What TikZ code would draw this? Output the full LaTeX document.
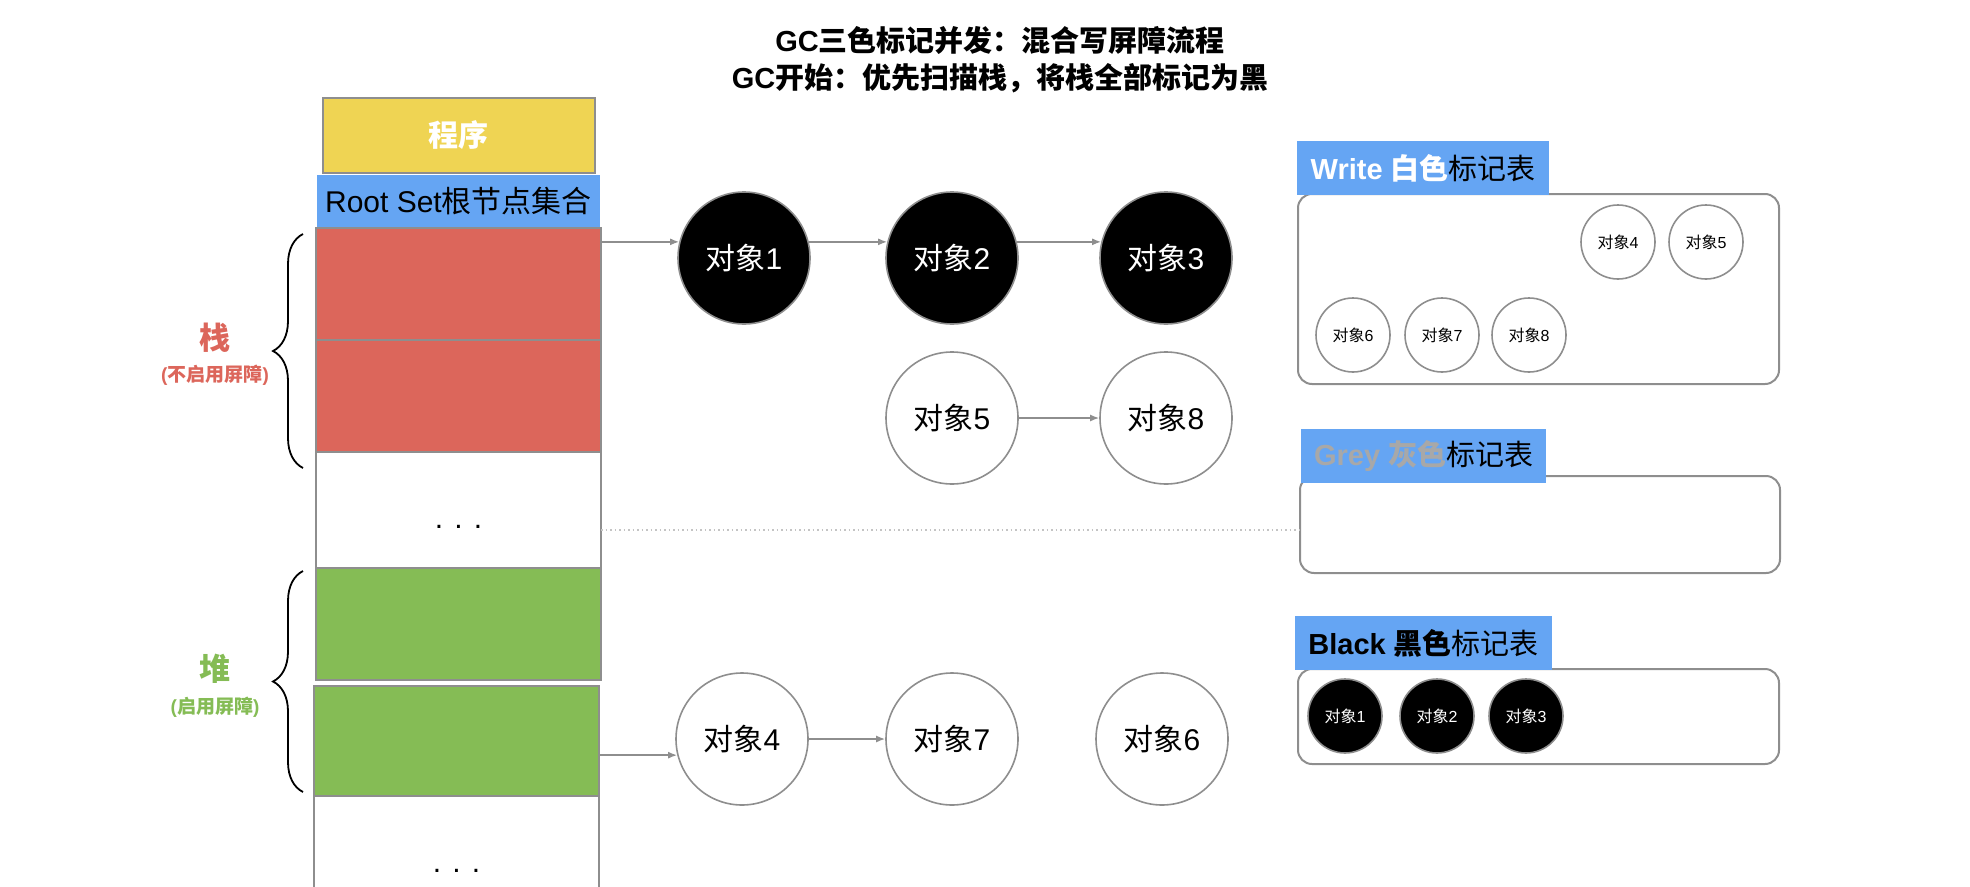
\documentclass[tikz,border=0pt]{standalone}
\usepackage{fontspec}
\setmainfont{Liberation Sans}
\newfontfamily\cjkfont{Noto Sans CJK SC}
\usetikzlibrary{arrows.meta,positioning,calc,decorations.pathreplacing}
\definecolor{progyellow}{HTML}{EFD453}
\definecolor{rootblue}{HTML}{65A5F3}
\definecolor{stackred}{HTML}{DC665B}
\definecolor{heapgreen}{HTML}{85BC55}
\definecolor{edgegray}{HTML}{8E8E8E}
\definecolor{greytext}{HTML}{A8A8A8}
\definecolor{dotgray}{HTML}{C4C4C4}
\newcommand{\zh}[1]{{\cjkfont #1}}
\tikzset{
  flowarrow/.style={-{Latex[length=9pt,width=7pt]}, line width=1.6pt, draw=edgegray},
  dotline/.style={line width=1.5pt, draw=dotgray, dash pattern=on 1.5pt off 3pt},
  memblock/.style={draw=edgegray, line width=2pt, minimum width=285pt, inner sep=0pt,
    outer sep=0pt, font=\fontsize{30}{36}\selectfont},
  memdots/.style={memblock, text height=36pt, text depth=0pt},
  objnode/.style={circle, draw=edgegray, line width=1.6pt, fill=white, minimum size=132pt,
    inner sep=0pt, font=\fontsize{30}{36}\selectfont},
  objblack/.style={objnode, fill=black, text=white},
  tabobj/.style={circle, draw=edgegray, line width=1.6pt, fill=white, minimum size=74pt,
    inner sep=0pt, font=\fontsize{16}{19}\selectfont},
  tabobjblack/.style={tabobj, fill=black, text=white},
  tabtitle/.style={fill=rootblue, anchor=north west, minimum height=54pt, inner sep=0pt,
    font=\fontsize{29}{34}\selectfont},
  tabframe/.style={draw=edgegray, line width=2pt, rounded corners=14pt, anchor=north west,
    minimum width=481pt, inner sep=0pt},
  sidebrace/.style={decorate, decoration={brace, amplitude=30pt}, line width=1.8pt},
  sidelabel/.style={font=\fontsize{31}{36}\selectfont\bfseries},
  sidenote/.style={font=\fontsize{19}{23}\selectfont\bfseries}
}

\begin{document}
\begin{tikzpicture}[x=1pt, y=-1pt]
    \clip (0,0) rectangle (1970,886);

    % title
    \node[align=center, font=\fontsize{29}{37}\selectfont\bfseries] (title) at (1000,60)
        {GC\zh{三色标记并发：混合写屏障流程}\\GC\zh{开始：优先扫描栈，将栈全部标记为黑}};

    % program memory
    \node[memblock, fill=rootblue, draw=none, minimum width=283pt, minimum height=53pt] (rootset)
        at (458.5,201.5) {Root Set\zh{根节点集合}};
    \node[memblock, fill=progyellow, minimum width=272pt, minimum height=75pt, above=2pt of rootset,
        text=white, font=\fontsize{30}{36}\selectfont\bfseries] (prog) {\zh{程序}};
    \node[memblock, fill=stackred, minimum height=112pt, below=0pt of rootset] (r1) {};
    \node[memblock, fill=stackred, minimum height=112pt, below=0pt of r1] (r2) {};
    \node[memdots, fill=white, minimum height=116pt, below=0pt of r2] (d1) {. . .};
    \node[memblock, fill=heapgreen, minimum height=112pt, below=0pt of d1] (g1) {};
    \node[memblock, fill=heapgreen, minimum height=110pt, below=6pt of g1, xshift=-2pt] (g2) {};
    \node[memdots, fill=white, minimum height=116pt, below=0pt of g2] (d2) {. . .};

    % braces
    \draw[sidebrace] (303,468) -- (303,234);
    \draw[sidebrace] (303,792) -- (303,571);
    \node[sidelabel, text=stackred] (stacklbl) at (215,338) {\zh{栈}};
    \node[sidenote, text=stackred] (stacknote) at (215,375) {(\zh{不启用屏障})};
    \node[sidelabel, text=heapgreen] (heaplbl) at (215,669) {\zh{堆}};
    \node[sidenote, text=heapgreen] (heapnote) at (215,707) {(\zh{启用屏障})};

    % objects
    \node[objblack] (o1) at (744,258) {\zh{对象}1};
    \node[objblack] (o2) at (952,258) {\zh{对象}2};
    \node[objblack] (o3) at (1166,258) {\zh{对象}3};
    \node[objnode] (o5) at (952,418) {\zh{对象}5};
    \node[objnode] (o8) at (1166,418) {\zh{对象}8};
    \node[objnode] (o4) at (742,739) {\zh{对象}4};
    \node[objnode] (o7) at (952,739) {\zh{对象}7};
    \node[objnode] (o6) at (1162,739) {\zh{对象}6};

    \draw[flowarrow] (r1.east |- o1.166) -- (o1.166);
    \draw[flowarrow] (o1.14) -- (o2.166);
    \draw[flowarrow] (o2.14) -- (o3.166);
    \draw[flowarrow] (o5) -- (o8);
    \draw[flowarrow] (g2.east |- o4.194) -- (o4.194);
    \draw[flowarrow] (o4) -- (o7);

    % mark tables
    \node[tabframe, minimum height=190pt] (whitetab) at (1297,193) {};
    \node[tabtitle, minimum width=252pt] (whitettl) at (1297,141)
        {{\bfseries\color{white}Write \zh{白色}}\zh{标记表}};
    \node[tabobj] (t4) at (1618,242) {\zh{对象}4};
    \node[tabobj] (t5) at (1706,242) {\zh{对象}5};
    \node[tabobj] (t6) at (1353,335) {\zh{对象}6};
    \node[tabobj] (t7) at (1442,335) {\zh{对象}7};
    \node[tabobj] (t8) at (1529,335) {\zh{对象}8};

    \node[tabframe, minimum width=480pt, minimum height=97pt] (greytab) at (1299,475) {};
    \node[tabtitle, minimum width=245pt] (greyttl) at (1301,429)
        {{\bfseries\color{greytext}Grey \zh{灰色}}\zh{标记表}};

    \node[tabframe, minimum height=95pt] (blacktab) at (1297,668) {};
    \node[tabtitle, minimum width=257pt] (blackttl) at (1295,616)
        {{\bfseries Black \zh{黑色}}\zh{标记表}};
    \node[tabobjblack] (b1) at (1345,716) {\zh{对象}1};
    \node[tabobjblack] (b2) at (1437,716) {\zh{对象}2};
    \node[tabobjblack] (b3) at (1526,716) {\zh{对象}3};

    \coordinate (dotstart) at ($(d1.east)+(0,20)$);
    \draw[dotline] (dotstart) -- (dotstart -| greytab.west);
\end{tikzpicture}
\end{document}
